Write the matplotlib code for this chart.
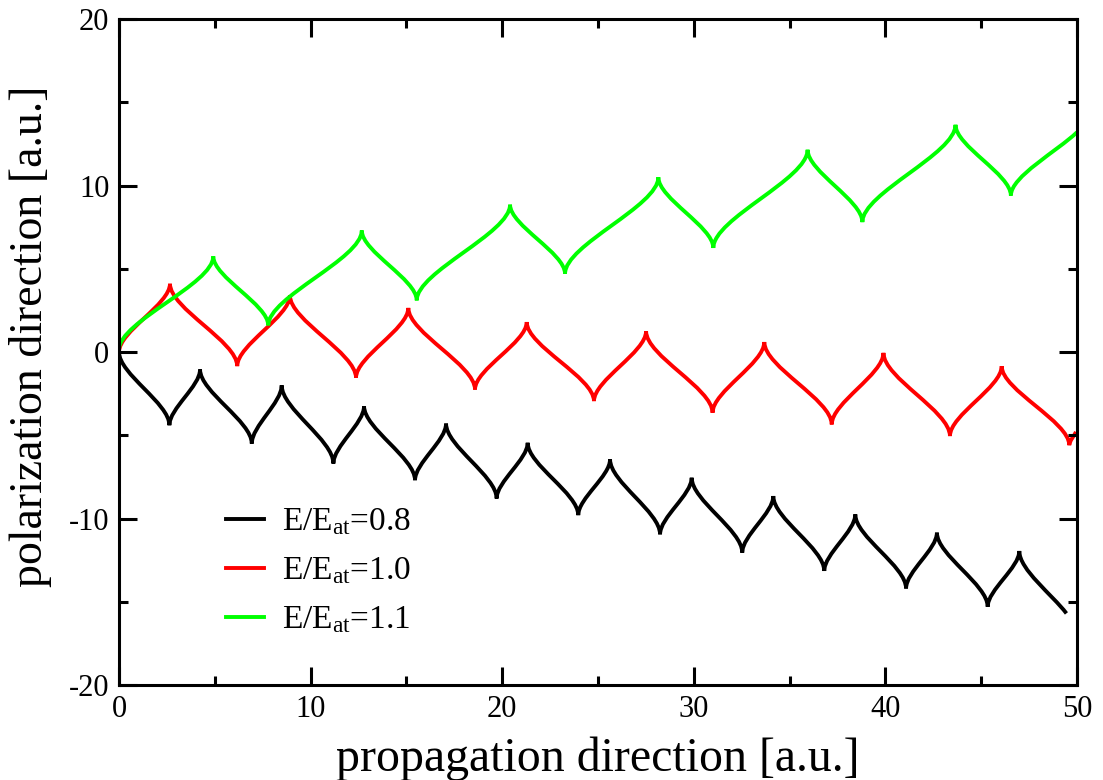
import matplotlib
matplotlib.use("Agg")
import matplotlib.pyplot as plt
from matplotlib.path import Path
from matplotlib.patches import PathPatch
from matplotlib.lines import Line2D
from matplotlib.ticker import MultipleLocator

plt.rcParams['font.family'] = ['Liberation Serif', 'DejaVu Serif']
plt.rcParams['mathtext.fontset'] = 'custom'
plt.rcParams['mathtext.rm'] = 'Liberation Serif'
plt.rcParams['mathtext.it'] = 'Liberation Serif:italic'
plt.rcParams['axes.unicode_minus'] = False

# cusp points of each trajectory (x, y)
x_08 = [0.0, 2.63, 4.23, 6.93, 8.49, 11.19, 12.79, 15.45, 17.07, 19.71, 21.33, 23.97,
        25.63, 28.24, 29.89, 32.53, 34.15, 36.81, 38.43, 41.08, 42.69, 45.34, 46.99, 49.45]
y_08 = [0.0, -4.4, -1.05, -5.5, -2.0, -6.7, -3.25, -7.7, -4.3, -8.8, -5.45, -9.8,
        -6.45, -10.95, -7.55, -12.05, -8.65, -13.15, -9.75, -14.2, -10.85, -15.3, -11.95, -15.7]

x_10 = [0.0, 2.66, 6.17, 8.92, 12.37, 15.10, 18.58, 21.28, 24.79, 27.51, 30.98,
        33.68, 37.2, 39.9, 43.37, 46.07, 49.6, 49.95]
y_10 = [0.0, 4.1, -0.85, 3.4, -1.55, 2.65, -2.25, 1.8, -2.95, 1.25, -3.65,
        0.6, -4.35, -0.05, -5.05, -0.85, -5.6, -4.8]

x_11 = [0.0, 4.92, 7.79, 12.67, 15.54, 20.41, 23.28, 28.15, 31.02, 35.94, 38.8, 43.66, 46.55, 50.0]
y_11 = [0.15, 5.75, 1.6, 7.3, 3.1, 8.85, 4.7, 10.5, 6.25, 12.15, 7.8, 13.65, 9.4, 13.2]

labels = [r'E/E$_{\rm at}$=0.8', r'E/E$_{\rm at}$=1.0', r'E/E$_{\rm at}$=1.1']
colors = ['black', '#ff0000', '#00ff00']


def scallop(xs, ys, k=0.3):
    # cubic segments between cusps, vertical at each cusp
    verts = [(xs[0], ys[0])]
    codes = [Path.MOVETO]
    n = len(xs)
    for i in range(n - 1):
        x0, y0, x1, y1 = xs[i], ys[i], xs[i + 1], ys[i + 1]
        dy = y1 - y0
        c1 = (x0, y0 + k * dy)
        if i == n - 2:
            c2 = (x1 - k * (x1 - x0), y1 - k * dy)
        else:
            c2 = (x1, y1 - k * dy)
        verts += [c1, c2, (x1, y1)]
        codes += [Path.CURVE4] * 3
    return Path(verts, codes)


fig = plt.figure(figsize=(11.03, 7.80), dpi=100)
ax = fig.add_axes([0.1079, 0.1218, 0.8685, 0.8538])

handles = []
for xs, ys, c, lab in zip([x_08, x_10, x_11], [y_08, y_10, y_11], colors, labels):
    ax.add_patch(PathPatch(scallop(xs, ys), fill=False, edgecolor=c, lw=2.8,
                           joinstyle='miter', capstyle='butt'))
    handles.append(Line2D([], [], color=c, lw=2.8, label=lab))

ax.set_xlim(0, 50)
ax.set_ylim(-20, 20)
ax.xaxis.set_major_locator(MultipleLocator(10))
ax.xaxis.set_minor_locator(MultipleLocator(5))
ax.yaxis.set_major_locator(MultipleLocator(10))
ax.yaxis.set_minor_locator(MultipleLocator(5))
ax.tick_params(which='both', direction='in', top=True, right=True, width=2.2,
               labelsize=22, pad=7)
ax.tick_params(which='major', length=13)
ax.tick_params(which='minor', length=6.5)
for s in ax.spines.values():
    s.set_linewidth(2.2)

ax.set_xlabel('propagation direction [a.u.]', fontsize=34.5)
ax.set_ylabel('polarization direction [a.u.]', fontsize=33)
ax.xaxis.set_label_coords(0.5, -0.078)
ax.yaxis.set_label_coords(-0.070, 0.523)

ax.legend(handles=handles, loc='upper left', bbox_to_anchor=(0.112, 0.268),
          frameon=False, fontsize=24, handlelength=1.12, handletextpad=0.55,
          borderaxespad=0, borderpad=0, labelspacing=0.55)

fig.savefig('out.png', dpi=100)
